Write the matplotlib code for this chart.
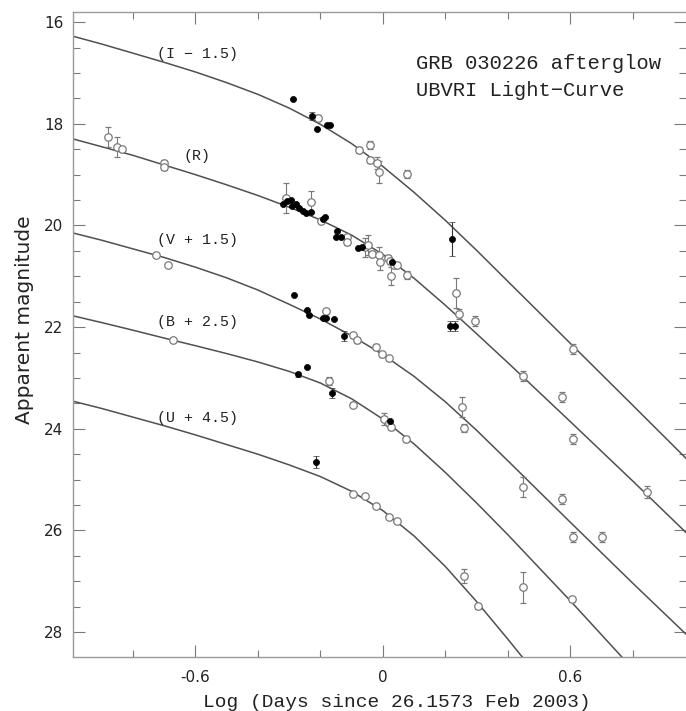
import matplotlib
matplotlib.use("Agg")
import matplotlib.pyplot as plt
from matplotlib.ticker import MultipleLocator

# model curves (log t, mag), one per band
curve_t = [-0.99, -0.9, -0.8, -0.7, -0.6, -0.5, -0.4, -0.3, -0.2, -0.1, 0.0, 0.1, 0.2, 0.3, 0.4, 0.6, 0.8, 0.97]
I_curve_m = [16.28, 16.43, 16.61, 16.79, 16.98, 17.19, 17.42, 17.69, 18.01, 18.39, 18.84, 19.35, 19.90, 20.49, 21.10, 22.32, 23.54, 24.58]
R_curve_m = [18.30, 18.45, 18.62, 18.81, 19.00, 19.20, 19.41, 19.64, 19.89, 20.19, 20.57, 21.04, 21.57, 22.13, 22.70, 23.86, 25.03, 26.04]
V_curve_m = [20.15, 20.29, 20.46, 20.63, 20.82, 21.03, 21.27, 21.55, 21.84, 22.17, 22.54, 22.97, 23.47, 24.03, 24.63, 25.84, 27.04, 28.04]
B_curve_t = [-0.99, -0.9, -0.8, -0.7, -0.6, -0.5, -0.4, -0.3, -0.2, -0.1, 0.0, 0.1, 0.2, 0.3, 0.4, 0.6, 0.8]
B_curve_m = [21.78, 21.91, 22.06, 22.215, 22.365, 22.52, 22.685, 22.87, 23.10, 23.41, 23.81, 24.30, 24.86, 25.46, 26.085, 27.385, 28.725]
U_curve_t = [-0.99, -0.9, -0.8, -0.7, -0.6, -0.5, -0.4, -0.3, -0.2, -0.1, 0.0, 0.1, 0.2, 0.3, 0.4, 0.5]
U_curve_m = [23.46, 23.60, 23.77, 23.94, 24.12, 24.31, 24.50, 24.71, 24.94, 25.23, 25.61, 26.11, 26.71, 27.40, 28.14, 28.90]

# photometry: filled = one set of telescopes, open = the other
I_fill_t = [-0.288, -0.227, -0.211, -0.179, -0.170, 0.221]
I_fill_m = [17.51, 17.85, 18.11, 18.03, 18.03, 20.27]
I_fill_e = [0, 0.08, 0, 0, 0, 0.33]
I_open_t = [-0.208, -0.077, -0.042, -0.042, -0.019, -0.013, 0.077, 0.608]
I_open_m = [17.89, 18.52, 18.42, 18.71, 18.77, 18.95, 18.99, 22.43]
I_open_e = [0.06, 0.06, 0.08, 0.06, 0.12, 0.22, 0.08, 0.1]

R_fill_t = [-0.320, -0.307, -0.294, -0.291, -0.278, -0.268, -0.256, -0.246, -0.230, -0.192,
            -0.186, -0.147, -0.150, -0.134, -0.080, -0.067, 0.029, 0.214, 0.230]
R_fill_m = [19.58, 19.52, 19.50, 19.62, 19.58, 19.66, 19.72, 19.76, 19.74, 19.87,
            19.84, 20.11, 20.23, 20.23, 20.45, 20.43, 20.72, 21.98, 21.98]
R_fill_e = [0]*17 + [0.1, 0.1]
R_open_t = [-0.880, -0.851, -0.835, -0.701, -0.701, -0.310, -0.230, -0.198, -0.115, -0.115,
            -0.058, -0.048, -0.035, -0.013, -0.010, 0.016, 0.022, 0.035, 0.045, 0.026,
            0.077, 0.234, 0.243, 0.294, 0.448, 0.573, 0.608, 0.845]
R_open_m = [18.26, 18.46, 18.50, 18.77, 18.85, 19.46, 19.54, 19.91, 20.23, 20.33,
            20.43, 20.39, 20.56, 20.58, 20.72, 20.64, 20.70, 20.78, 20.78, 21.00,
            20.98, 21.33, 21.74, 21.88, 22.96, 23.38, 24.20, 25.25]
R_open_e = [0.2, 0.2, 0.05, 0.05, 0.05, 0.3, 0.21, 0.05, 0.05, 0.05,
            0.18, 0.2, 0.05, 0.15, 0.15, 0.05, 0.05, 0.05, 0.05, 0.18,
            0.08, 0.3, 0.1, 0.1, 0.1, 0.1, 0.1, 0.12]

V_fill_t = [-0.285, -0.243, -0.237, -0.192, -0.182, -0.157, -0.125]
V_fill_m = [21.37, 21.67, 21.76, 21.82, 21.82, 21.83, 22.18]
V_fill_e = [0, 0, 0, 0, 0, 0, 0.1]
V_open_t = [-0.726, -0.688, -0.182, -0.096, -0.083, -0.022, -0.004, 0.019, 0.253, 0.259, 0.448, 0.573, 0.608, 0.701]
V_open_m = [20.58, 20.78, 21.69, 22.16, 22.26, 22.39, 22.53, 22.61, 23.57, 23.99, 25.15, 25.38, 26.13, 26.13]
V_open_e = [0.03, 0.03, 0.05, 0.05, 0.05, 0.05, 0.05, 0.05, 0.2, 0.08, 0.2, 0.1, 0.1, 0.1]

B_fill_t = [-0.272, -0.243, -0.163, 0.022]
B_fill_m = [22.93, 22.79, 23.30, 23.85]
B_fill_e = [0.05, 0, 0.1, 0]
B_open_t = [-0.672, -0.173, -0.096, 0.003, 0.019, 0.026, 0.074, 0.448, 0.605]
B_open_m = [22.26, 23.06, 23.53, 23.81, 23.89, 23.97, 24.20, 27.12, 27.35]
B_open_e = [0.03, 0.08, 0.05, 0.12, 0.05, 0.05, 0.05, 0.3, 0.05]

U_fill_t = [-0.214]
U_fill_m = [24.66]
U_fill_e = [0.12]
U_open_t = [-0.096, -0.058, -0.022, 0.019, 0.045, 0.259, 0.304]
U_open_m = [25.29, 25.33, 25.52, 25.74, 25.82, 26.90, 27.49]
U_open_e = [0.03, 0.03, 0.03, 0.03, 0.03, 0.14, 0.05]

band_labels = ["(I − 1.5)", "(R)", "(V + 1.5)", "(B + 2.5)", "(U + 4.5)"]
label_t = [-0.595, -0.595, -0.595, -0.595, -0.595]
label_m = [16.63, 18.64, 20.29, 21.90, 23.79]

curves = [(curve_t, I_curve_m), (curve_t, R_curve_m), (curve_t, V_curve_m),
          (B_curve_t, B_curve_m), (U_curve_t, U_curve_m)]
filled = [(I_fill_t, I_fill_m, I_fill_e), (R_fill_t, R_fill_m, R_fill_e), (V_fill_t, V_fill_m, V_fill_e),
          (B_fill_t, B_fill_m, B_fill_e), (U_fill_t, U_fill_m, U_fill_e)]
opened = [(I_open_t, I_open_m, I_open_e), (R_open_t, R_open_m, R_open_e), (V_open_t, V_open_m, V_open_e),
          (B_open_t, B_open_m, B_open_e), (U_open_t, U_open_m, U_open_e)]

mono = ["Liberation Mono", "DejaVu Sans Mono"]
grey = "#7a7a7a"

fig = plt.figure(figsize=(6.86, 7.11), dpi=100)
ax = fig.add_axes([0.1064, 0.0759, 0.8936, 0.9072])

for t, m in curves:
    ax.plot(t, m, color="#505050", lw=1.1, zorder=2, solid_joinstyle="round")

for t, m, e in opened:
    ax.errorbar(t, m, yerr=e, fmt="o", ms=5.4, mfc="white", mec=grey, mew=0.9,
                ecolor=grey, elinewidth=0.8, capsize=2.5, capthick=0.8, zorder=3)

for t, m, e in filled:
    ax.errorbar(t, m, yerr=e, fmt="o", ms=4.4, mfc="black", mec="black", mew=0.5,
                ecolor="#333333", elinewidth=0.8, capsize=2.5, capthick=0.8, zorder=4)

for lab, t, m in zip(band_labels, label_t, label_m):
    ax.text(t, m, lab, ha="center", va="center", fontsize=10.8, family=mono, color="#222222")

ax.text(0.105, 16.82, "GRB 030226 afterglow", fontsize=14.8, family=mono, color="#222222", va="center")
ax.text(0.105, 17.35, "UBVRI Light−Curve", fontsize=14.8, family=mono, color="#222222", va="center")

ax.set_xlim(-0.992, 0.970)
ax.set_ylim(28.49, 15.80)

ax.xaxis.set_major_locator(MultipleLocator(0.6))
ax.xaxis.set_minor_locator(MultipleLocator(0.2))
ax.yaxis.set_major_locator(MultipleLocator(2))
ax.yaxis.set_minor_locator(MultipleLocator(0.5))
ax.set_xticks([-0.6, 0, 0.6])
ax.set_xticklabels(["-0.6", "0", "0.6"])
ax.tick_params(which="both", direction="in", top=True, right=True, color=grey, width=0.8)
ax.tick_params(which="major", length=8.5, labelsize=11, labelcolor="#222222")
ax.tick_params(which="minor", length=5)
ax.tick_params(axis="x", which="major", pad=9)
ax.tick_params(axis="y", which="major", pad=7)

for s in ax.spines.values():
    s.set_color("#9a9a9a")
    s.set_linewidth(1.0)
ax.spines["right"].set_visible(False)

fig.text(0.579, 0.0125, "Log (Days since 26.1573 Feb 2003)", ha="center", va="center",
         fontsize=14, family=mono, color="#222222")
fig.text(0.035, 0.55, "Apparent magnitude", rotation=90, ha="center", va="center",
         fontsize=14.5, color="#222222")

fig.savefig("out.png", dpi=100)
